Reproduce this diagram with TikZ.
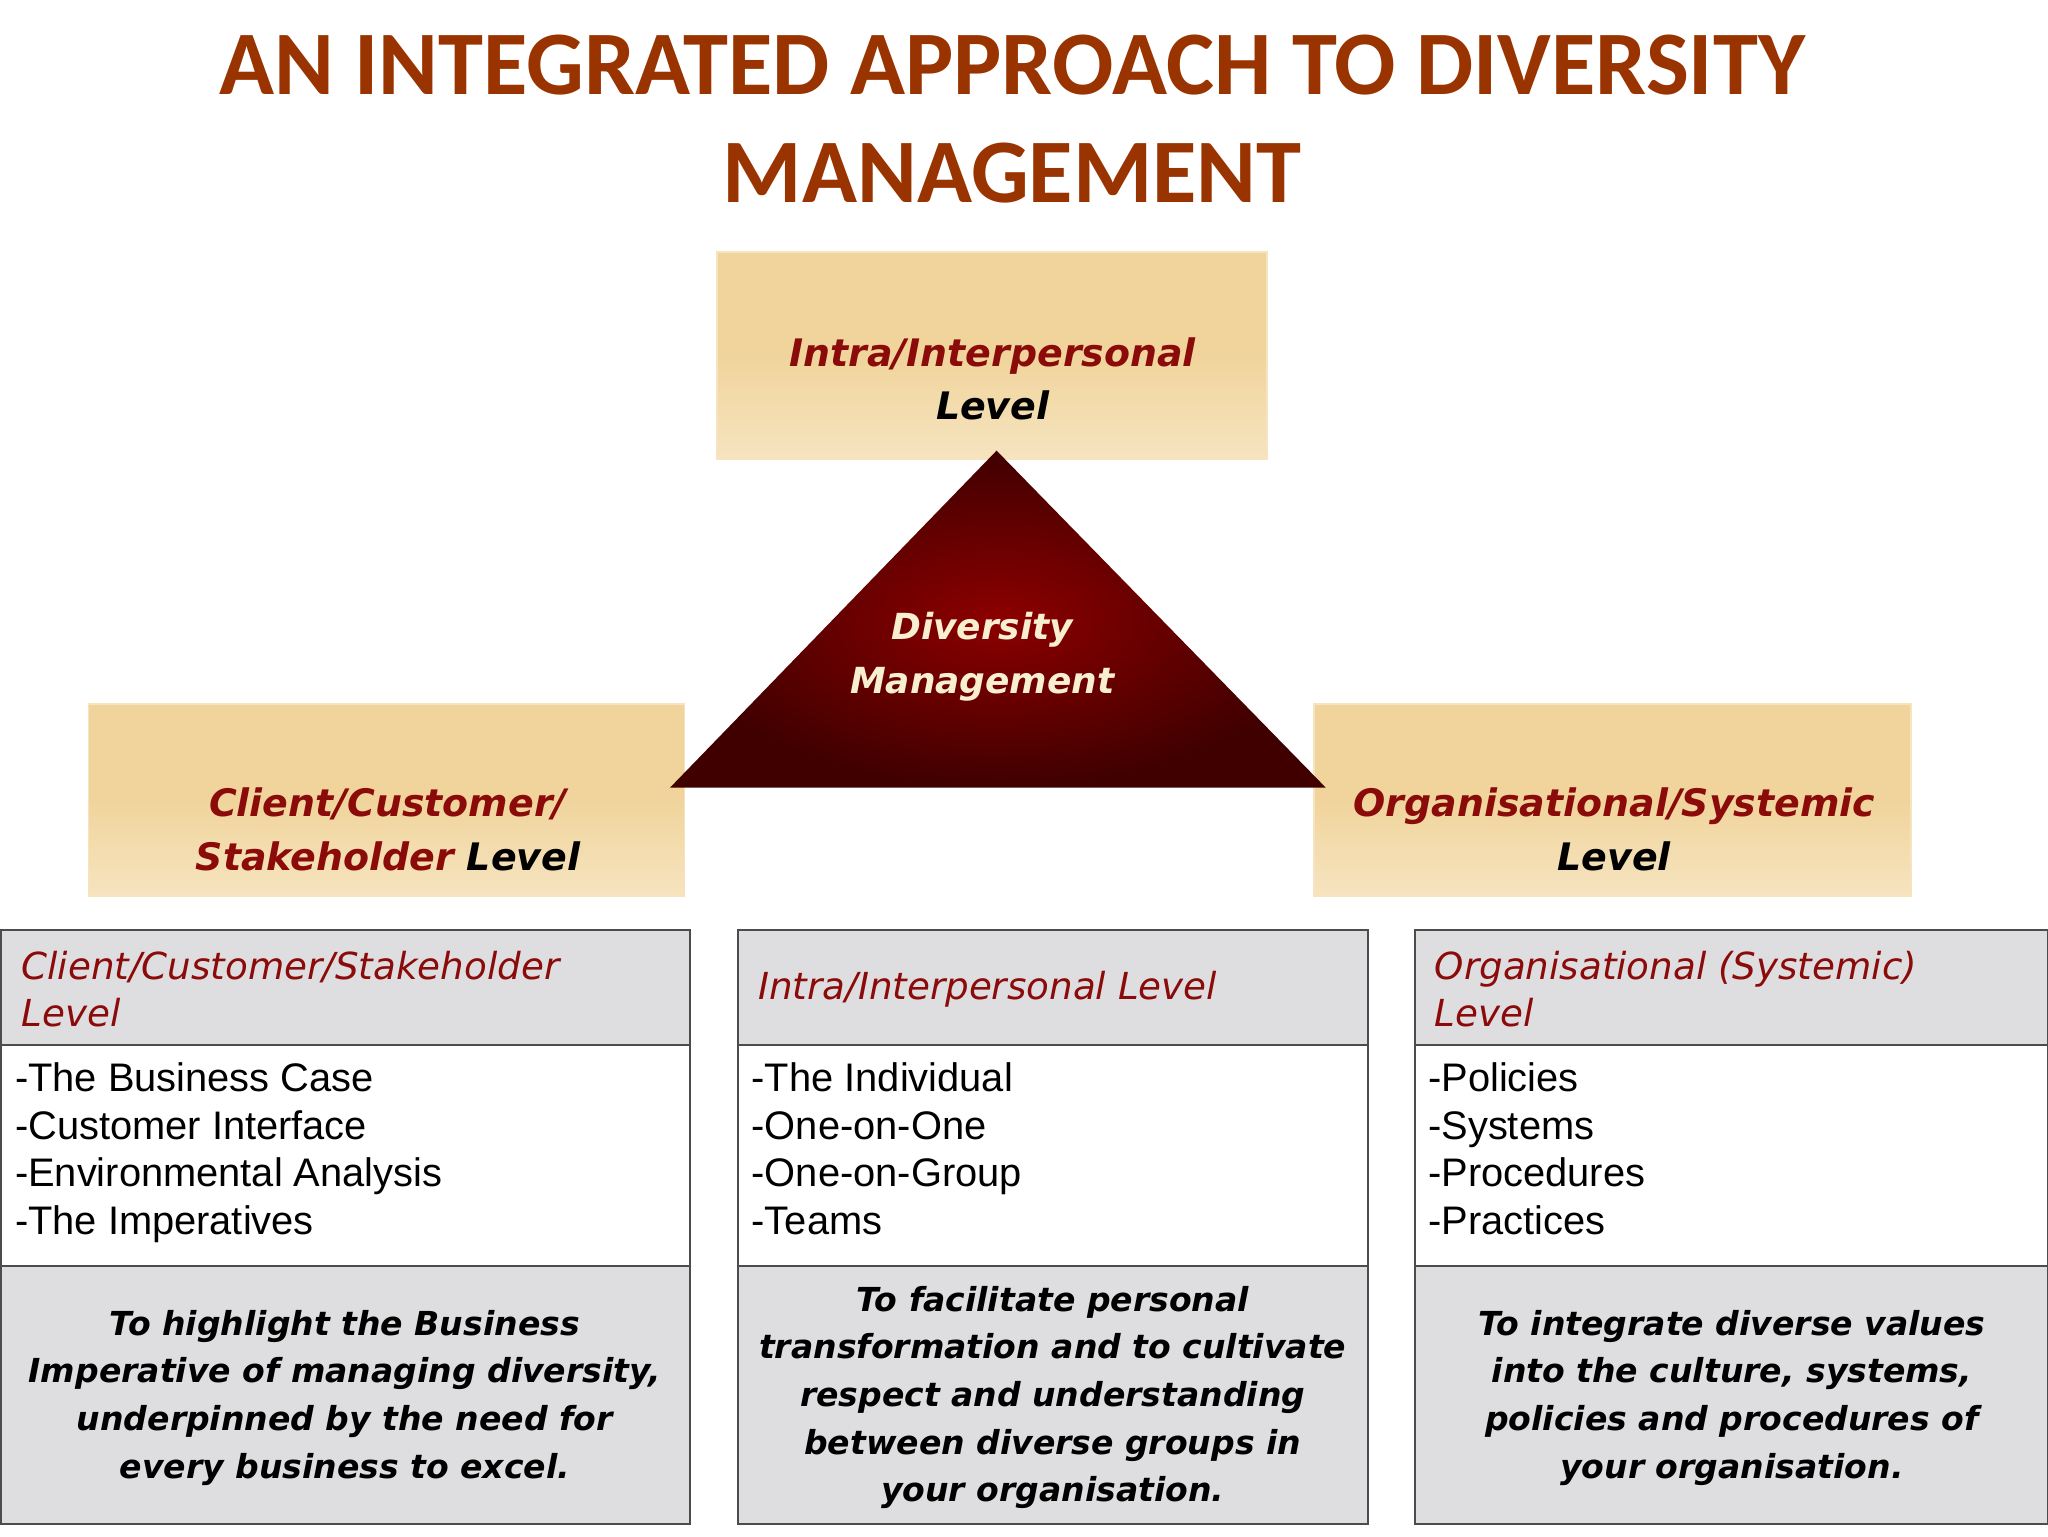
\documentclass[tikz,border=0pt]{standalone}
\usepackage{fontspec}
\setmainfont{Liberation Sans}
\newfontfamily\titlefont{Carlito}
\newfontfamily\vfont{DejaVu Sans}
\usetikzlibrary{shapes.geometric}
\definecolor{ttl}{HTML}{993300}
\definecolor{dred}{HTML}{8B0A0A}
\definecolor{tanA}{HTML}{F0D49C}
\definecolor{tanB}{HTML}{F6E4C0}
\definecolor{hdr}{HTML}{DEDEE0}
\definecolor{cream}{HTML}{F8EFD0}
\tikzset{
  tanbox/.style={draw=tanB,line width=1pt,top color=tanA,bottom color=tanB,middle color=tanA},
  lvl/.style={font=\vfont\bfseries\itshape\fontsize{29}{41}\selectfont,align=center},
  hdrbox/.style={draw=black!70,line width=1.5pt,fill=hdr},
  plainbox/.style={draw=black!70,line width=1.5pt,fill=white},
  hdrtxt/.style={font=\vfont\itshape\fontsize{28.5}{36}\selectfont,text=dred,align=left,anchor=west},
  listtxt/.style={font=\fontsize{30.5}{36.5}\selectfont,align=left,anchor=north west},
  goaltxt/.style={font=\vfont\bfseries\itshape\fontsize{25.3}{36.5}\selectfont,align=center}
}
\begin{document}
\begin{tikzpicture}[x=1pt,y=-1pt]
\useasboundingbox (0,0) rectangle (1568,1176);
\node[font=\titlefont\bfseries\fontsize{69.5}{83}\selectfont,text=ttl,align=center] (title) at (775,91) {AN INTEGRATED APPROACH TO DIVERSITY\\MANAGEMENT};
% level boxes
\path[tanbox] (549,193) rectangle (970,352);
\node[lvl] (top) at (760,290) {\textcolor{dred}{Intra/Interpersonal}\\Level};
\path[tanbox] (68,539) rectangle (524,686);
\node[lvl] (left) at (297,635) {\textcolor{dred}{Client/Customer/}\\\textcolor{dred}{Stakeholder} Level};
\path[tanbox] (1006,539) rectangle (1463,686);
\node[lvl] (right) at (1236,635) {\textcolor{dred}{Organisational/Systemic}\\Level};
% triangle
\shade[inner color=red!55!black,outer color=red!25!black] (763,345) -- (1015,603) -- (513,603) -- cycle;
\node[font=\vfont\bfseries\itshape\fontsize{27.5}{41}\selectfont,text=cream,align=center] (dm) at (752,503) {Diversity\\Management};
% tables
\foreach \xa/\xb/\n in {1/528/L,565/1047/M,1083/1568/R}{
  \path[hdrbox] (\xa,712) rectangle (\xb,800);
  \path[plainbox] (\xa,800) rectangle (\xb,969);
  \path[hdrbox] (\xa,969) rectangle (\xb,1167);
}
\node[hdrtxt] (hL) at (13,757) {Client/Customer/Stakeholder\\Level};
\node[hdrtxt] (hM) at (577,757) {Intra/Interpersonal Level};
\node[hdrtxt] (hR) at (1095,757) {Organisational (Systemic)\\Level};
\node[listtxt] (lL) at (8,810) {-The Business Case\\-Customer Interface\\-Environmental Analysis\\-The Imperatives};
\node[listtxt] (lM) at (572,810) {-The Individual\\-One-on-One\\-One-on-Group\\-Teams};
\node[listtxt] (lR) at (1090,810) {-Policies\\-Systems\\-Procedures\\-Practices};
\node[goaltxt] (gL) at (264,1070) {To highlight the Business\\Imperative of managing diversity,\\underpinned by the need for\\every business to excel.};
\node[goaltxt] (gM) at (806,1070) {To facilitate personal\\transformation and to cultivate\\respect and understanding\\between diverse groups in\\your organisation.};
\node[goaltxt] (gR) at (1326,1070) {To integrate diverse values\\into the culture, systems,\\policies and procedures of\\your organisation.};
\end{tikzpicture}
\end{document}
